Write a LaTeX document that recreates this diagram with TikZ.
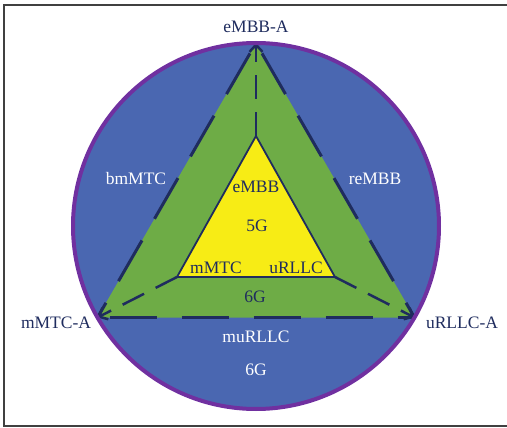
\documentclass[tikz,border=0pt]{standalone}
\usepackage{fontspec}
\setmainfont{Liberation Serif}
\usetikzlibrary{arrows.meta}
\definecolor{cblue}{HTML}{4A67B1}
\definecolor{cgreen}{HTML}{6EAC46}
\definecolor{cyellow}{HTML}{F7EC15}
\definecolor{cpurple}{HTML}{7030A0}
\definecolor{navy}{HTML}{1F2C5E}
\definecolor{framecol}{HTML}{404040}
\begin{document}
\begin{tikzpicture}[x=1pt,y=-1pt,
  lbl/.style={font=\fontsize{17.5}{20}\selectfont, inner sep=0pt, anchor=base},
  navylbl/.style={lbl, text=navy},
  whitelbl/.style={lbl, text=white},
  edgeline/.style={draw=navy, line width=3pt, dash pattern=on 47pt off 25pt, dash phase=60pt},
  arrline/.style={draw=navy, line width=2.5pt, dash pattern=on 24pt off 13pt,
    -{Straight Barb[length=7pt,width=13pt]}},
]
\useasboundingbox (0,0) rectangle (507,428);
\draw[framecol, line width=1.3pt] (507,5) -- (4,5) -- (4,426) -- (507,426);
\coordinate (O) at (256,226);
\fill[cblue] (O) circle (183);
\coordinate (A) at (256,43);
\coordinate (B) at (97.5,317.5);
\coordinate (C) at (414.5,317.5);
\fill[cgreen] (A) -- (B) -- (C) -- cycle;
\coordinate (a) at (256,136);
\coordinate (b) at (177,277);
\coordinate (c) at (335,277);
\filldraw[fill=cyellow, draw=navy, line width=1.8pt, line join=miter] (a) -- (b) -- (c) -- cycle;
\draw[edgeline] (A) -- (B);
\draw[edgeline] (A) -- (C);
\draw[edgeline] (B) -- (C);
\draw[arrline] (a) -- (A);
\draw[arrline] (b) -- (B);
\draw[arrline] (c) -- (C);
\draw[cpurple, line width=4pt] (O) circle (183);
\node[navylbl] (lA) at (256,33) {eMBB-A};
\node[navylbl] (lB) at (56,328) {mMTC-A};
\node[navylbl] (lC) at (462,328) {uRLLC-A};
\node[whitelbl] (bm) at (136,185) {bmMTC};
\node[whitelbl] (re) at (375,185) {reMBB};
\node[navylbl] (e1) at (256,193) {eMBB};
\node[navylbl] (g5) at (257,232) {5G};
\node[navylbl] (m1) at (216,273) {mMTC};
\node[navylbl] (u1) at (296,273) {uRLLC};
\node[navylbl] (g6a) at (255,302) {6G};
\node[whitelbl] (mu) at (256,342) {muRLLC};
\node[whitelbl] (g6b) at (256,375) {6G};
\end{tikzpicture}
\end{document}
